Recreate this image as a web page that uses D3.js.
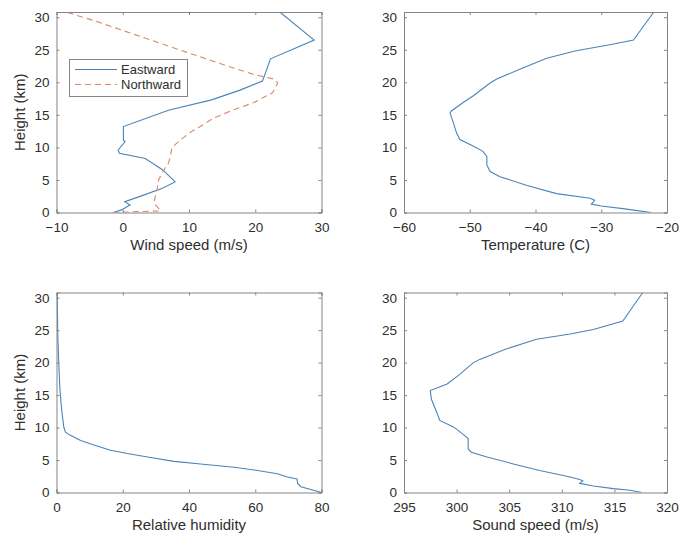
<!DOCTYPE html>
<html>
<head>
<meta charset="utf-8">
<script src="https://cdn.jsdelivr.net/npm/d3@7"></script>
<style>
  html, body { margin: 0; padding: 0; background: #fff; }
  svg { display: block; font-family: "Liberation Sans", Arial, Helvetica, sans-serif; }
</style>
</head>
<body>
<svg id="chart" width="680" height="537"></svg>
<script>
// ---- Data: [height (km), value] pairs ----
const eastward = [
  [0, -1.4], [0.4, -0.2], [1.15, 1.1], [1.66, 0.3], [2.4, 2.4], [3.7, 5.9], [4.7, 7.9],
  [6.5, 6.1], [8.3, 3.4], [9.1, -0.5], [9.6, -0.7], [10.9, 0.35], [11.1, 0.1], [13.2, 0.1],
  [15.7, 6.9], [17.3, 13.4], [18.8, 17.7], [20.2, 21.1], [23.6, 22.3], [26.5, 28.9], [30.8, 23.7]
];
const northward = [
  [0, -1.5], [0.25, 5.7], [0.9, 5.2], [1.4, 4.7], [2.4, 4.9], [3.7, 5.2], [5.0, 5.4],
  [6.5, 6.2], [7.6, 6.9], [8.6, 7.2], [9.9, 7.4], [10.7, 8.2], [12.2, 10.0], [13.2, 11.7],
  [14.5, 13.7], [15.8, 16.8], [16.9, 19.8], [18.4, 22.6], [19.9, 23.4], [20.5, 22.8],
  [21.2, 19.8], [22.5, 15.8], [24.6, 9.7], [27.4, 1.6], [29.5, -4.4], [30.8, -8.6]
];
const temperature = [
  [0, -22.4], [0.6, -26.7], [1.0, -30.0], [1.3, -31.5], [1.5, -31.3], [1.9, -31.0], [2.2, -31.7],
  [2.9, -36.8], [4.2, -41.4], [5.5, -45.4], [6.3, -46.9], [7.3, -47.4], [8.6, -47.4], [9.4, -48.0],
  [10.2, -49.5], [11.2, -51.5], [12.2, -52.0], [13.8, -52.5], [15.3, -53.0], [15.6, -52.8],
  [16.9, -51.0], [17.9, -49.5], [19.9, -46.9], [20.5, -45.9], [22.0, -42.4], [23.7, -38.3],
  [24.8, -34.0], [25.8, -28.5], [26.5, -25.1], [30.8, -22.0]
];
const humidity = [
  [0, 80], [0.9, 73.8], [1.4, 72.8], [2.1, 72.6], [2.4, 69.7], [2.9, 66.7], [3.4, 60.7],
  [3.9, 53.6], [4.4, 43.5], [4.8, 35.5], [5.4, 28.4], [6.0, 21.4], [6.5, 16.3], [7.3, 11.3],
  [8.0, 7.3], [8.8, 4.2], [9.3, 2.7], [10.1, 2.2], [12.1, 1.7], [13.6, 1.4], [16.2, 1.0],
  [19.8, 0.7], [23.9, 0.4], [30.8, 0.2]
];
const soundSpeed = [
  [0, 317.6], [0.35, 316.5], [0.6, 314.9], [1.0, 313.0], [1.4, 311.7], [1.8, 312.0], [2.0, 311.7],
  [2.4, 310.8], [3.4, 307.9], [4.4, 305.4], [5.5, 302.8], [6.2, 301.4], [6.7, 301.1], [8.3, 301.1],
  [9.0, 300.6], [10.1, 299.7], [11.1, 298.4], [12.4, 298.1], [14.4, 297.6], [15.7, 297.5],
  [16.7, 299.1], [18.2, 300.3], [20.0, 301.6], [20.5, 302.2], [22.1, 304.7], [23.6, 307.6],
  [24.4, 310.8], [25.1, 313.0], [26.4, 315.8], [30.8, 317.7]
];

const heightTicks = [0, 5, 10, 15, 20, 25, 30];
const windTicks = [-10, 0, 10, 20, 30];
const tempTicks = [-60, -50, -40, -30, -20];
const rhTicks = [0, 20, 40, 60, 80];
const soundTicks = [295, 300, 305, 310, 315, 320];
const legendLabels = ["Eastward", "Northward"];

const BLUE = "#4a84b8";
const RED = "#dc8670";
const AXIS = "#858585";
const TEXT = "#2e2e2e";

const svg = d3.select("#chart");

const panels = [
  { x0: 56.5, x1: 321.5, y0: 12, y1: 212.5, xd: [-10, 30], xt: windTicks, xlabel: "Wind speed (m/s)", ylabel: true,
    series: [{ data: eastward, color: BLUE, dash: null }, { data: northward, color: RED, dash: "6,4" }], legend: true },
  { x0: 404, x1: 667, y0: 12, y1: 212.5, xd: [-60, -20], xt: tempTicks, xlabel: "Temperature (C)", ylabel: false,
    series: [{ data: temperature, color: BLUE, dash: null }] },
  { x0: 56.5, x1: 321.5, y0: 292.5, y1: 492.5, xd: [0, 80], xt: rhTicks, xlabel: "Relative humidity", ylabel: true,
    series: [{ data: humidity, color: BLUE, dash: null }] },
  { x0: 404, x1: 667, y0: 292.5, y1: 492.5, xd: [295, 320], xt: soundTicks, xlabel: "Sound speed (m/s)", ylabel: false,
    series: [{ data: soundSpeed, color: BLUE, dash: null }] }
];

const fmt = d => d3.format("")(d);

panels.forEach((p, i) => {
  const x = d3.scaleLinear().domain(p.xd).range([p.x0, p.x1]);
  const y = d3.scaleLinear().domain([0, 30.8]).range([p.y1, p.y0]);
  const g = svg.append("g");
  const w = p.x1 - p.x0, h = p.y1 - p.y0;

  g.append("rect").attr("x", p.x0).attr("y", p.y0).attr("width", w).attr("height", h).attr("fill", "#fff");

  const clipId = "clip" + i;
  svg.append("clipPath").attr("id", clipId).append("rect")
    .attr("x", p.x0).attr("y", p.y0).attr("width", w).attr("height", h);

  const line = d3.line().x(d => x(d[1])).y(d => y(d[0]));
  p.series.forEach(s => {
    g.append("path").datum(s.data)
      .attr("clip-path", `url(#${clipId})`)
      .attr("d", line)
      .attr("fill", "none")
      .attr("stroke", s.color)
      .attr("stroke-width", 1.1)
      .attr("stroke-dasharray", s.dash);
  });

  const tl = 3;
  const bx = g.append("g").attr("transform", `translate(0,${p.y1})`)
    .call(d3.axisBottom(x).tickValues(p.xt).tickSize(-tl).tickPadding(10).tickFormat(fmt));
  const tx = g.append("g").attr("transform", `translate(0,${p.y0})`)
    .call(d3.axisTop(x).tickValues(p.xt).tickSize(-tl).tickFormat(""));
  const ly = g.append("g").attr("transform", `translate(${p.x0},0)`)
    .call(d3.axisLeft(y).tickValues(heightTicks).tickSize(-tl).tickPadding(7).tickFormat(fmt));
  const ry = g.append("g").attr("transform", `translate(${p.x1},0)`)
    .call(d3.axisRight(y).tickValues(heightTicks).tickSize(-tl).tickFormat(""));

  [bx, tx, ly, ry].forEach(a => {
    a.select(".domain").attr("stroke", AXIS).attr("stroke-width", 1);
    a.selectAll(".tick line").attr("stroke", AXIS).attr("stroke-width", 1);
    a.selectAll(".tick text").attr("fill", TEXT).attr("font-size", 13.5)
      .attr("font-family", "'Liberation Sans', Arial, Helvetica, sans-serif");
  });
  bx.selectAll(".tick text").attr("dy", "0.71em");

  g.append("text")
    .attr("x", (p.x0 + p.x1) / 2).attr("y", p.y1 + 37)
    .attr("text-anchor", "middle").attr("fill", TEXT).attr("font-size", 15)
    .text(p.xlabel);

  if (p.ylabel) {
    g.append("text")
      .attr("transform", `translate(${p.x0 - 32},${(p.y0 + p.y1) / 2}) rotate(-90)`)
      .attr("text-anchor", "middle").attr("fill", TEXT).attr("font-size", 15)
      .text("Height (km)");
  }

  if (p.legend) {
    const lg = g.append("g");
    lg.append("rect").attr("x", 69.5).attr("y", 59.5).attr("width", 118).attr("height", 37)
      .attr("fill", "#fff").attr("stroke", AXIS).attr("stroke-width", 1);
    p.series.forEach((s, k) => {
      const yy = 69.5 + k * 15;
      lg.append("line").attr("x1", 75).attr("x2", 117).attr("y1", yy).attr("y2", yy)
        .attr("stroke", s.color).attr("stroke-width", 1.1).attr("stroke-dasharray", s.dash);
      lg.append("text").attr("x", 121).attr("y", yy).attr("dy", "0.35em")
        .attr("fill", TEXT).attr("font-size", 13).text(legendLabels[k]);
    });
  }
});
</script>
</body>
</html>
